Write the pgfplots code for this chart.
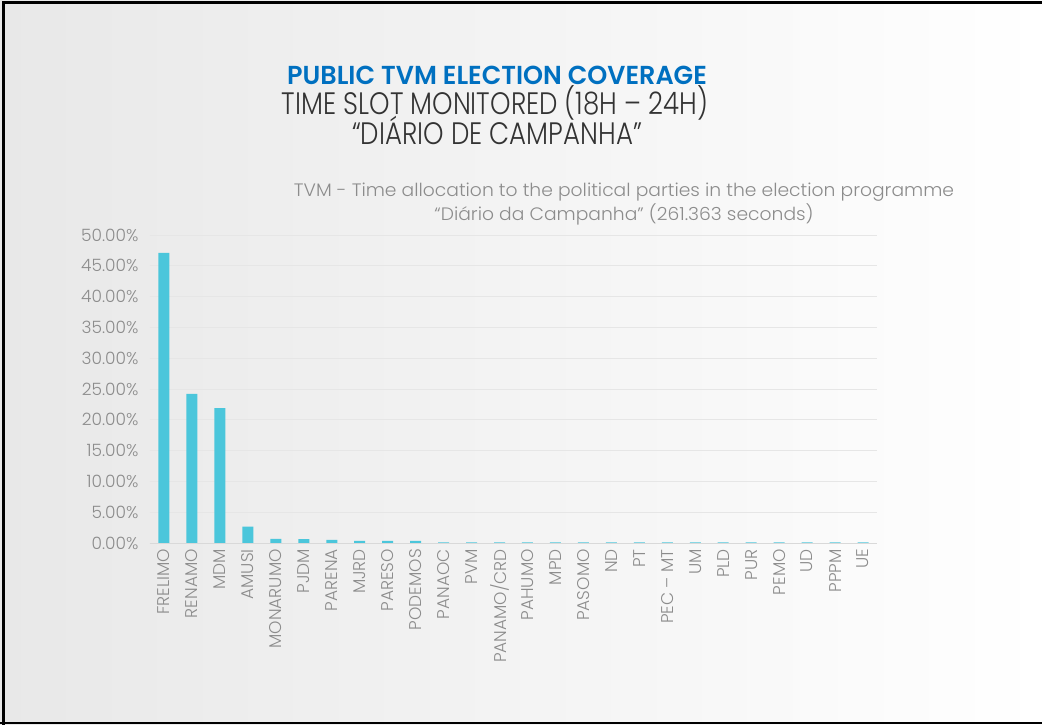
\documentclass[border=0pt]{standalone}
\usepackage{pgfplots}
\pgfplotsset{compat=1.18}
\usepackage{fontspec}
\setmainfont{Poppins}
\newfontfamily\lightfont{Poppins Light}
\newfontfamily\boldfont{Poppins}[UprightFont=* SemiBold]
\definecolor{barc}{HTML}{4BC6DB}
\definecolor{tickc}{HTML}{8C8C8C}
\definecolor{titleblue}{HTML}{0070C0}
\definecolor{gridc}{HTML}{E6E6E6}
\begin{document}
\begin{tikzpicture}[x=1pt,y=1pt]
\useasboundingbox (0,0) rectangle (1042,725);
\shade[shading=axis,shading angle=60,left color=black!9,right color=white] (0,0) rectangle (1042,725);
\draw[line width=3pt] (3,0) -- (3,722) -- (1042,722);
\draw[line width=2pt] (0,1.5) -- (1042,1.5);
\node[font=\boldfont\fontsize{26}{28}\selectfont,text=titleblue] at (497,650) {\scalebox{0.98}[1]{PUBLIC TVM ELECTION COVERAGE}};
\node[font=\lightfont\fontsize{31}{33}\selectfont,text=black!80] at (495,622) {\scalebox{0.84}[1]{TIME SLOT MONITORED (18H – 24H)}};
\node[font=\lightfont\fontsize{31}{33}\selectfont,text=black!80] at (497,595) {\scalebox{0.84}[1]{“DIÁRIO DE CAMPANHA”}};
\node[font=\lightfont\fontsize{18}{24}\selectfont,text=tickc,align=center] at (624,521) {\scalebox{1.04}[1]{TVM - Time allocation to the political parties in the election programme}\\\scalebox{1.04}[1]{“Diário da Campanha” (261.363 seconds)}};
\begin{axis}[
  at={(150pt,182pt)}, anchor=south west,
  scale only axis, width=727pt, height=308pt,
  xmin=-0.5, xmax=25.5, ymin=0, ymax=50,
  axis line style={draw=none},
  ytick={0,5,...,50},
  yticklabel={\pgfmathprintnumber[fixed,fixed zerofill,precision=2]{\tick}\%},
  /pgf/number format/assume math mode=true,
  yticklabel style={font=\lightfont\fontsize{17}{19}\selectfont,text=tickc,xshift=-8pt},
  ymajorgrids, grid style={draw=gridc,line width=0.8pt},
  major tick length=0pt,
  xtick=data,
  xticklabels={FRELIMO,RENAMO,MDM,AMUSI,MONARUMO,PJDM,PARENA,MJRD,PARESO,PODEMOS,PANAOC,PVM,PANAMO/CRD,PAHUMO,MPD,PASOMO,ND,PT,PEC – MT,UM,PLD,PUR,PEMO,UD,PPPM,UE},
  xticklabel style={font=\lightfont\fontsize{17}{19}\selectfont,text=tickc,rotate=90,anchor=east,inner sep=6pt},
  ybar, bar width=11pt,
  clip=false,
]
\draw[draw=black!15,line width=0.8pt] (axis cs:-0.5,0) -- (axis cs:25.5,0);
\addplot[fill=barc,draw=none] coordinates {
(0,47.1) (1,24.2) (2,21.9) (3,2.65) (4,0.65) (5,0.62) (6,0.5) (7,0.35) (8,0.35) (9,0.35)
(10,0.1) (11,0.1) (12,0.1) (13,0.1) (14,0.1) (15,0.1) (16,0.1) (17,0.1) (18,0.1) (19,0.1)
(20,0.1) (21,0.1) (22,0.1) (23,0.1) (24,0.1) (25,0.1)};
\end{axis}
\end{tikzpicture}
\end{document}
